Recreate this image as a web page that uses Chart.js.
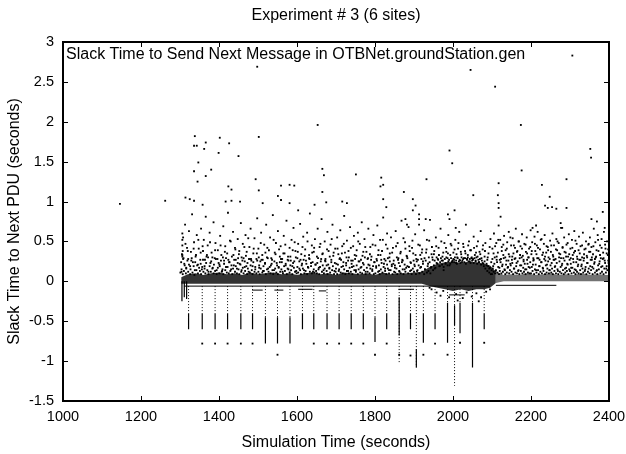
<!DOCTYPE html>
<html>
<head>
<meta charset="utf-8">
<script src="https://cdn.jsdelivr.net/npm/chart.js@4.4.1/dist/chart.umd.min.js"></script>
<style>
  html, body { margin: 0; padding: 0; background: #fff; }
  #wrap { width: 626px; height: 454px; }
</style>
</head>
<body>
<div id="wrap"><canvas id="chart" width="626" height="454"></canvas></div>
<script>
// labels
const chartTitle = 'Experiment # 3 (6 sites)';
const seriesName = 'Slack Time to Send Next Message in OTBNet.groundStation.gen';
const xTitle = 'Simulation Time (seconds)';
const yTitle = 'Slack Time to Next PDU (seconds)';

// sparse points above the cloud [time, slack]
const upperPts = [
  [1146,0.97],[1262,1.01],[1498,2.69],[2045,2.65],[2108,2.44],[2306,2.83],
  [1338,1.82],[1336,1.7],[1343,1.7],[1362,1.66],[1366,1.74],[1402,1.8],[1426,1.73],[1399,1.61],
  [1450,1.57],[1502,1.81],[1653,1.96],[1347,1.49],[1336,1.38],[1380,1.4],[1345,1.25],[1366,1.32],
  [1665,1.41],[1669,1.33],[1751,1.34],[1816,1.3],[1494,1.28],[1814,1.19],[1821,1.21],[1424,1.19],
  [1432,1.15],[1502,1.14],[1559,1.2],[1581,1.21],[1593,1.2],[1314,1.05],[1325,1.03],[1336,1.01],
  [1551,1.07],[1665,1.12],[1821,1.03],[1675,0.99],[1716,1.0],[1728,0.98],[1645,0.96],[1829,0.93],
  [1358,0.96],[1417,1.0],[1432,1.01],[1454,1.0],[1512,0.98],[1559,1.02],[1581,0.98],[1603,0.89],
  [2174,1.96],[1991,1.64],[1998,1.48],[2176,1.39],[1932,1.28],[2117,1.23],[2228,1.21],[2291,1.28],
  [2352,1.66],[2354,1.55],[1874,1.12],[2052,1.08],[2115,1.08],[2248,1.06],[1897,1.03],[2117,0.98],
  [2117,0.92],[2236,0.95],[2243,0.92],[2254,0.93],[2265,0.91],[2291,0.92],[2384,0.87],[1904,0.95],
  [1897,0.89],[1987,0.84],[1991,0.78],[2004,0.89],[1913,0.84],[1913,0.78],[1930,0.78],[1878,0.78],
  [1882,0.71],[2007,0.67],[2122,0.81],[2355,0.78],[2369,0.75],[2389,0.67],[2213,0.7],[2204,0.67],
  [2276,0.73],[2280,0.67]
];

// the scattered cloud between the band and ~0.85 s
const cloudPts = [
  [1304,0.12],[1306,0.31],[1308,0.55],[1311,0.22],[1313,0.71],[1316,0.16],[1318,0.42],[1321,0.28],[1323,0.63],[1326,0.19],
  [1328,0.37],[1331,0.84],[1333,0.24],[1336,0.49],[1338,0.14],[1341,0.33],[1343,0.58],[1346,0.21],[1348,0.41],
  [1352,0.27],[1354,0.66],[1356,0.15],[1359,0.38],[1361,0.52],[1363,0.19],[1366,0.81],[1368,0.31],[1371,0.45],[1373,0.12],
  [1376,0.61],[1378,0.23],[1381,0.36],[1384,0.17],[1386,0.74],[1389,0.29],[1391,0.48],[1394,0.14],[1397,0.39],
  [1401,0.21],[1403,0.57],[1406,0.33],[1408,0.13],[1411,0.69],[1413,0.26],[1416,0.44],[1418,0.18],[1421,0.35],[1423,0.86],
  [1426,0.24],[1428,0.51],[1431,0.15],[1433,0.31],[1436,0.62],[1438,0.2],[1441,0.42],[1443,0.27],[1446,0.16],[1448,0.53],
  [1451,0.34],[1453,0.22],[1456,0.73],[1458,0.14],[1461,0.47],[1463,0.29],[1466,0.18],[1468,0.58],[1471,0.37],[1473,0.23],
  [1476,0.12],[1478,0.43],[1481,0.66],[1483,0.26],[1486,0.19],[1488,0.35],[1491,0.54],[1493,0.15],[1496,0.28],[1498,0.79],
  [1501,0.41],[1503,0.17],[1506,0.25],[1508,0.61],[1511,0.33],[1513,0.13],[1516,0.46],[1518,0.22],[1521,0.71],[1523,0.3],
  [1526,0.16],[1528,0.39],[1531,0.55],[1533,0.2],[1536,0.27],[1538,0.83],[1541,0.14],[1543,0.36],[1546,0.48],[1548,0.23],
  [1551,0.63],[1553,0.18],[1556,0.31],[1558,0.44],[1561,0.24],[1563,0.12],[1566,0.57],[1568,0.35],[1571,0.2],[1573,0.76],
  [1576,0.27],[1578,0.15],[1581,0.42],[1583,0.31],[1586,0.52],[1588,0.19],[1591,0.67],[1593,0.25],[1596,0.38],[1598,0.13],
  [1601,0.29],[1603,0.47],[1606,0.16],[1608,0.72],[1611,0.34],[1613,0.22],[1616,0.56],[1618,0.14],[1621,0.4],[1623,0.26],
  [1626,0.61],[1628,0.18],[1631,0.33],[1633,0.85],[1636,0.23],[1638,0.45],[1641,0.12],[1643,0.37],[1646,0.53],[1648,0.21],
  [1651,0.31],[1653,0.66],[1656,0.17],[1658,0.43],[1661,0.25],[1663,0.78],[1666,0.35],[1668,0.14],[1671,0.5],[1673,0.28],
  [1676,0.2],[1678,0.62],[1681,0.38],[1683,0.16],[1686,0.46],[1688,0.24],[1691,0.71],[1693,0.32],[1696,0.13],[1698,0.41],
  [1701,0.22],[1703,0.55],[1706,0.34],[1708,0.15],[1711,0.64],[1713,0.27],[1716,0.44],[1718,0.19],[1721,0.82],[1723,0.36],
  [1726,0.23],[1728,0.51],[1731,0.13],[1733,0.3],[1736,0.68],[1738,0.42],[1741,0.18],[1743,0.26],[1746,0.57],[1748,0.33],
  [1751,0.14],[1753,0.39],[1756,0.61],[1758,0.25],[1761,0.47],[1763,0.17],[1766,0.74],[1768,0.32],[1771,0.21],[1773,0.53],
  [1776,0.12],[1778,0.37],[1781,0.28],[1783,0.66],[1786,0.2],[1788,0.43],[1791,0.31],[1793,0.15],[1796,0.58],[1798,0.24],
  [1801,0.45],[1803,0.19],[1806,0.7],[1808,0.33],[1811,0.13],[1813,0.52],[1816,0.27],[1818,0.38],[1821,0.8],[1823,0.22],
  [1826,0.16],[1828,0.46],[1831,0.6],[1833,0.29],[1836,0.14],[1838,0.35],[1841,0.55],[1843,0.21],[1846,0.42],[1848,0.26],
  [1851,0.17],[1853,0.63],[1856,0.3],[1858,0.48],[1861,0.23],[1863,0.12],[1866,0.37],[1868,0.76],[1871,0.26],[1873,0.54],
  [1876,0.15],[1878,0.41],[1881,0.32],[1883,0.19],[1886,0.68],[1888,0.44],[1891,0.24],[1893,0.14],[1896,0.51],[1898,0.35],
  [1901,0.21],[1903,0.59],[1906,0.28],[1908,0.13],[1911,0.46],[1913,0.71],[1916,0.33],[1918,0.18],[1921,0.4],[1923,0.25],
  [1926,0.64],[1928,0.15],[1931,0.36],[1933,0.52],[1936,0.22],[1938,0.3],[1941,0.77],[1943,0.17],[1946,0.43],[1948,0.27],
  [1951,0.34],[1953,0.16],[1956,0.55],[1958,0.23],[1961,0.28],[1963,0.42],[1966,0.19],[1968,0.66],[1971,0.26],[1973,0.31],
  [1976,0.14],[1978,0.48],[1981,0.22],[1983,0.37],[1986,0.29],[1988,0.58],[1991,0.2],[1993,0.33],[1996,0.45],[1998,0.25],
  [2001,0.36],[2003,0.27],[2006,0.52],[2008,0.23],[2011,0.3],[2013,0.41],[2016,0.62],[2018,0.26],[2021,0.34],[2023,0.24],
  [2026,0.47],[2028,0.29],[2031,0.38],[2033,0.71],[2036,0.28],[2038,0.33],[2041,0.5],[2043,0.25],[2046,0.39],[2048,0.3],
  [2051,0.28],[2053,0.56],[2056,0.33],[2058,0.26],[2061,0.44],[2063,0.31],[2066,0.24],[2068,0.37],[2071,0.63],[2073,0.29],
  [2076,0.4],[2078,0.22],[2081,0.31],[2083,0.48],[2086,0.2],[2088,0.27],[2091,0.35],[2093,0.16],[2096,0.53],[2098,0.24],
  [2101,0.41],[2103,0.19],[2105,0.6],[2107,0.3],[2109,0.13],[2111,0.48],[2113,0.24],[2115,0.36],[2117,0.7],[2119,0.17],
  [2121,0.52],[2123,0.28],[2125,0.43],[2127,0.21],[2129,0.33],[2131,0.57],[2133,0.14],[2135,0.39],[2137,0.26],[2139,0.49],
  [2141,0.18],[2143,0.62],[2145,0.31],[2147,0.22],[2149,0.45],
  [2151,0.27],[2153,0.54],[2155,0.35],[2157,0.16],[2159,0.42],[2161,0.66],[2163,0.23],[2165,0.38],[2167,0.13],[2169,0.5],
  [2171,0.29],[2173,0.44],[2175,0.2],[2177,0.59],[2179,0.32],[2181,0.25],[2183,0.47],[2185,0.15],[2187,0.37],[2189,0.55],
  [2191,0.22],[2193,0.3],[2195,0.41],[2197,0.17],[2199,0.64],
  [2201,0.34],[2203,0.49],[2205,0.21],[2207,0.27],[2209,0.56],[2211,0.38],[2213,0.14],[2215,0.45],[2217,0.62],[2219,0.29],
  [2221,0.19],[2223,0.4],[2225,0.52],[2227,0.24],[2229,0.33],[2231,0.16],[2233,0.47],[2235,0.58],[2237,0.26],[2239,0.36],
  [2241,0.21],[2243,0.43],[2245,0.3],[2247,0.14],[2249,0.51],
  [2251,0.37],[2253,0.23],[2255,0.6],[2257,0.31],[2259,0.45],[2261,0.18],[2263,0.28],[2265,0.53],[2267,0.39],[2269,0.13],
  [2271,0.48],[2273,0.25],[2275,0.34],[2277,0.67],[2279,0.2],[2281,0.42],[2283,0.29],[2285,0.55],[2287,0.16],[2289,0.36],
  [2291,0.46],[2293,0.22],[2295,0.31],[2297,0.59],[2299,0.27],
  [2301,0.41],[2303,0.17],[2305,0.52],[2307,0.33],[2309,0.24],[2311,0.63],[2313,0.38],[2315,0.14],[2317,0.47],[2319,0.28],
  [2321,0.21],[2323,0.56],[2325,0.35],[2327,0.44],[2329,0.19],[2331,0.3],[2333,0.61],[2335,0.26],[2337,0.4],[2339,0.15],
  [2341,0.5],[2343,0.32],[2345,0.23],[2347,0.46],[2349,0.37],
  [2351,0.55],[2353,0.27],[2355,0.43],[2357,0.18],[2359,0.34],[2361,0.66],[2363,0.24],[2365,0.49],[2367,0.31],[2369,0.14],
  [2371,0.58],[2373,0.38],[2375,0.22],[2377,0.45],[2379,0.29],[2381,0.53],[2383,0.19],[2385,0.36],[2387,0.62],[2389,0.26],
  [2391,0.41],[2393,0.16],[2395,0.5],[2397,0.33],[2399,0.23]
];

// extra dots in the 0.25-0.55 s part of the cloud
const midPts = [
  [1306,.6],[1306,.52],[1306,.45],[1307,.38],[1306,.33],
  [1305,.34],[1309,.29],[1314,.47],[1320,.38],[1329,.26],[1335,.41],[1340,.31],[1347,.52],
  [1353,.36],[1358,.44],[1364,.27],[1369,.33],[1377,.49],[1383,.3],[1390,.39],[1396,.28],
  [1404,.45],[1410,.3],[1415,.37],[1424,.27],[1430,.5],[1437,.33],[1442,.4],[1449,.29],
  [1452,.38],[1460,.26],[1465,.43],[1469,.32],[1475,.54],[1482,.28],[1489,.41],[1497,.35],
  [1502,.3],[1507,.48],[1512,.27],[1519,.36],[1524,.42],[1534,.29],[1540,.52],[1545,.34],
  [1554,.4],[1559,.28],[1565,.35],[1570,.46],[1577,.31],[1584,.26],[1589,.39],[1594,.49],
  [1602,.37],[1609,.27],[1614,.43],[1620,.32],[1627,.5],[1632,.28],[1639,.36],[1644,.42],
  [1654,.29],[1660,.47],[1665,.34],[1672,.26],[1677,.4],[1684,.31],[1689,.53],[1694,.36],
  [1704,.41],[1709,.28],[1715,.35],[1720,.47],[1727,.3],[1732,.38],[1739,.26],[1744,.44],
  [1752,.32],[1757,.5],[1764,.27],[1770,.37],[1775,.43],[1782,.29],[1787,.34],[1794,.46],
  [1804,.28],[1809,.39],[1814,.33],[1820,.52],[1827,.26],[1832,.41],[1837,.3],[1844,.36],
  [1854,.44],[1860,.29],[1865,.35],[1870,.27],[1877,.49],[1882,.31],[1889,.38],[1895,.42],
  [1904,.33],[1910,.27],[1915,.45],[1920,.36],[1927,.29],[1932,.4],[1939,.51],[1945,.34],
  [1952,.38],[1957,.44],[1964,.33],[1970,.5],[1975,.36],[1982,.42],[1987,.35],[1994,.47],
  [2004,.4],[2009,.34],[2014,.48],[2020,.37],[2027,.43],[2032,.35],[2039,.45],[2044,.39],
  [2054,.42],[2059,.36],[2064,.5],[2070,.34],[2077,.45],[2082,.38],[2089,.3],[2094,.43],
  [2101,.28],[2104,.35],[2108,.44],[2112,.31],[2116,.52],[2120,.27],[2125,.38],[2129,.46],[2134,.3],[2138,.41],[2143,.34],[2147,.55],
  [2152,.31],[2156,.45],[2160,.29],[2164,.37],[2168,.5],[2172,.33],[2177,.41],[2181,.27],[2186,.46],[2190,.35],[2194,.3],[2198,.43],
  [2202,.38],[2206,.29],[2210,.47],[2214,.34],[2218,.42],[2222,.27],[2227,.53],[2231,.36],[2236,.31],[2240,.44],[2244,.39],[2248,.28],
  [2252,.45],[2256,.33],[2260,.27],[2264,.4],[2268,.5],[2272,.35],[2277,.29],[2281,.43],[2286,.37],[2290,.31],[2294,.48],[2298,.34],
  [2302,.29],[2306,.42],[2310,.36],[2314,.51],[2318,.31],[2322,.39],[2327,.27],[2331,.45],[2336,.34],[2340,.41],[2344,.3],[2348,.47],
  [2352,.37],[2356,.3],[2360,.44],[2364,.28],[2368,.39],[2372,.52],[2377,.33],[2381,.42],[2386,.29],[2390,.46],[2394,.35],[2398,.4]
];

// dense dots just above the band
const nearPts = [
  [1301,.11],[1303,.24],[1304,.15],[1307,.09],[1308,.28],[1310,.13],[1312,.2],[1315,.1],[1316,.17],[1319,.26],[1321,.12],[1323,.21],
  [1326,.09],[1327,.15],[1330,.29],[1332,.11],[1335,.19],[1337,.08],[1339,.24],[1342,.14],[1344,.2],[1346,.1],[1349,.17],
  [1351,.13],[1353,.22],[1354,.09],[1357,.18],[1359,.27],[1360,.12],[1363,.16],[1365,.1],[1367,.23],[1370,.14],[1372,.3],[1373,.09],
  [1376,.19],[1379,.12],[1380,.25],[1383,.16],[1386,.1],[1387,.21],[1390,.13],[1392,.28],[1394,.09],[1397,.17],[1399,.23],
  [1401,.1],[1402,.19],[1405,.26],[1407,.12],[1409,.15],[1411,.09],[1413,.22],[1416,.14],[1418,.29],[1420,.11],[1422,.18],
  [1425,.1],[1427,.24],[1429,.13],[1432,.2],[1434,.09],[1436,.16],[1439,.27],[1441,.12],[1443,.19],[1446,.1],[1448,.23],
  [1450,.15],[1452,.09],[1455,.21],[1457,.12],[1458,.3],[1461,.17],[1463,.1],[1466,.25],[1467,.13],[1470,.19],[1472,.09],
  [1474,.16],[1477,.28],[1479,.11],[1481,.2],[1484,.14],[1486,.09],[1488,.24],[1491,.12],[1493,.18],[1496,.1],[1498,.26],
  [1501,.12],[1503,.2],[1504,.09],[1507,.16],[1509,.27],[1511,.11],[1514,.19],[1515,.13],[1518,.23],[1520,.09],[1523,.15],
  [1525,.29],[1527,.12],[1530,.18],[1532,.1],[1535,.22],[1537,.14],[1539,.09],[1542,.25],[1544,.16],[1547,.11],[1549,.2],
  [1551,.09],[1553,.17],[1556,.24],[1557,.12],[1560,.15],[1562,.28],[1564,.1],[1567,.19],[1569,.13],[1571,.22],[1574,.09],
  [1576,.16],[1578,.26],[1581,.11],[1583,.2],[1585,.14],[1588,.09],[1590,.23],[1592,.17],[1595,.12],[1597,.3],[1599,.1],
  [1601,.18],[1603,.11],[1606,.25],[1608,.14],[1610,.09],[1612,.2],[1615,.16],[1617,.27],[1619,.1],[1622,.13],[1624,.22],
  [1626,.09],[1629,.17],[1631,.29],[1633,.12],[1636,.19],[1638,.1],[1640,.24],[1643,.15],[1645,.11],[1647,.21],[1649,.13],
  [1651,.1],[1652,.23],[1655,.15],[1657,.09],[1659,.18],[1662,.28],[1664,.12],[1666,.2],[1669,.1],[1671,.16],[1673,.25],
  [1676,.13],[1678,.09],[1680,.21],[1683,.17],[1685,.11],[1688,.27],[1690,.14],[1692,.19],[1695,.09],[1697,.23],[1699,.12],
  [1700,.16],[1703,.09],[1705,.21],[1707,.13],[1710,.29],[1712,.11],[1714,.18],[1717,.1],[1719,.24],[1721,.15],[1724,.09],
  [1726,.2],[1728,.13],[1731,.26],[1733,.1],[1735,.17],[1738,.12],[1740,.22],[1742,.09],[1745,.19],[1747,.14],[1749,.28],
  [1751,.12],[1753,.2],[1756,.09],[1758,.15],[1760,.25],[1762,.11],[1765,.18],[1767,.1],[1769,.23],[1772,.14],[1774,.3],
  [1776,.09],[1779,.17],[1781,.12],[1783,.21],[1786,.1],[1788,.16],[1790,.27],[1793,.13],[1795,.19],[1797,.09],[1799,.24],
  [1801,.1],[1803,.17],[1805,.26],[1808,.12],[1810,.2],[1812,.09],[1815,.15],[1817,.23],[1819,.11],[1822,.18],[1824,.28],
  [1826,.13],[1829,.09],[1831,.21],[1833,.16],[1836,.1],[1838,.25],[1840,.14],[1843,.19],[1845,.09],[1847,.22],[1849,.12],
  [1851,.2],[1852,.11],[1855,.16],[1857,.09],[1859,.27],[1862,.13],[1864,.19],[1866,.1],[1869,.24],[1871,.15],[1873,.09],
  [1876,.21],[1878,.12],[1880,.17],[1883,.29],[1885,.1],[1887,.18],[1890,.13],[1892,.23],[1894,.09],[1897,.16],[1899,.26],
  [1900,.12],[1902,.19],[1905,.09],[1907,.25],[1909,.14],[1912,.2],[1914,.1],[1916,.17],[1919,.28],[1921,.12],[1923,.22],
  [1926,.09],[1928,.15],[1930,.26],[1933,.11],[1935,.19],[1937,.13],[1940,.24],[1942,.1],[1944,.18],[1947,.3],[1949,.14],
  [1951,.2],[1953,.26],[1955,.17],[1958,.3],[1960,.22],[1962,.27],[1965,.19],[1967,.24],[1969,.29],[1972,.21],[1974,.26],
  [1976,.18],[1979,.28],[1981,.23],[1983,.3],[1986,.2],[1988,.25],[1990,.27],[1993,.22],[1995,.29],[1997,.24],[1999,.26],
  [2001,.28],[2003,.24],[2005,.3],[2008,.26],[2010,.22],[2012,.29],[2015,.25],[2017,.27],[2019,.23],[2022,.3],[2024,.26],
  [2026,.28],[2029,.24],[2031,.29],[2033,.22],[2036,.27],[2038,.3],[2040,.25],[2043,.28],[2045,.23],[2047,.29],[2049,.26],
  [2051,.27],[2053,.23],[2055,.29],[2058,.25],[2060,.3],[2062,.22],[2065,.27],[2067,.24],[2069,.28],[2072,.21],[2074,.26],
  [2076,.23],[2079,.19],[2081,.25],[2083,.16],[2086,.22],[2088,.13],[2090,.19],[2093,.11],[2095,.17],[2097,.09],[2099,.14],
  [2100,.09],[2102,.16],[2104,.12],[2106,.22],[2108,.1],[2110,.14],[2112,.27],[2114,.11],[2116,.18],[2118,.09],[2120,.13],
  [2122,.24],[2124,.1],[2126,.19],[2128,.12],[2130,.29],[2132,.15],[2134,.09],[2136,.21],[2138,.11],[2140,.17],[2142,.26],
  [2144,.1],[2146,.14],[2148,.2],
  [2150,.12],[2152,.23],[2154,.09],[2156,.16],[2158,.28],[2160,.11],[2162,.19],[2164,.1],[2166,.25],[2168,.14],[2170,.09],
  [2172,.2],[2174,.13],[2176,.3],[2178,.1],[2180,.17],[2182,.12],[2184,.22],[2186,.09],[2188,.15],[2190,.27],[2192,.11],
  [2194,.18],[2196,.1],[2198,.24],
  [2200,.1],[2202,.18],[2204,.13],[2206,.26],[2208,.09],[2210,.15],[2212,.21],[2214,.11],[2216,.29],[2218,.14],[2220,.09],
  [2222,.19],[2224,.12],[2226,.24],[2228,.1],[2230,.17],[2232,.13],[2234,.28],[2236,.09],[2238,.2],[2240,.11],[2242,.16],
  [2244,.25],[2246,.1],[2248,.14],
  [2250,.2],[2252,.11],[2254,.16],[2256,.09],[2258,.27],[2260,.13],[2262,.19],[2264,.1],[2266,.23],[2268,.15],[2270,.09],
  [2272,.3],[2274,.12],[2276,.18],[2278,.1],[2280,.22],[2282,.14],[2284,.09],[2286,.26],[2288,.11],[2290,.17],[2292,.13],
  [2294,.21],[2296,.09],[2298,.15],
  [2300,.13],[2302,.22],[2304,.1],[2306,.17],[2308,.28],[2310,.11],[2312,.15],[2314,.09],[2316,.24],[2318,.12],[2320,.19],
  [2322,.1],[2324,.27],[2326,.14],[2328,.09],[2330,.21],[2332,.16],[2334,.11],[2336,.29],[2338,.13],[2340,.18],[2342,.09],
  [2344,.23],[2346,.12],[2348,.16],
  [2350,.1],[2352,.19],[2354,.14],[2356,.27],[2358,.09],[2360,.16],[2362,.22],[2364,.11],[2366,.3],[2368,.13],[2370,.09],
  [2372,.2],[2374,.15],[2376,.25],[2378,.1],[2380,.18],[2382,.12],[2384,.28],[2386,.09],[2388,.16],[2390,.23],[2392,.11],
  [2394,.19],[2396,.14],[2398,.26]
];

// ragged dots under the 1950-2100 s blob
const lowPts = [[1940,-.08],[1945,-.1],[1958,-.14],[1968,-.18],[1975,-.12],[1990,-.2],[2008,-.16],[2012,-.24],[2025,-.21],[2035,-.14],[2048,-.19],[2060,-.15],[2066,-.25],[2072,-.2],[2085,-.13],[2095,-.1]];

// dense band around zero: envelope of the solid black mass
const bandX      = [1303,1320,1340,1360,1380,1400,1420,1440,1460,1480,1500,1520,1540,1560,1580,1600,1620,1640,1660,1680,1700,1720,1740,1760,1780,1800,1820,1840,1860,1880,1900,1920,1940,1960,1980,2000,2020,2040,2060,2080,2095,2110,2130,2150,2170,2190,2210,2230,2250,2270,2290,2310,2330,2350,2370,2390,2400];
const bandTop    = [0.05,0.09,0.1,0.08,0.1,0.11,0.09,0.1,0.08,0.11,0.09,0.1,0.11,0.09,0.1,0.08,0.1,0.11,0.09,0.1,0.08,0.11,0.1,0.09,0.1,0.08,0.11,0.09,0.1,0.1,0.11,0.12,0.18,0.22,0.24,0.25,0.23,0.25,0.24,0.22,0.2,0.12,0.08,0.09,0.08,0.1,0.08,0.09,0.1,0.08,0.09,0.08,0.1,0.08,0.09,0.08,0.08];
const bandBottom = [-0.03,-0.03,-0.03,-0.03,-0.03,-0.03,-0.03,-0.03,-0.03,-0.03,-0.03,-0.03,-0.03,-0.03,-0.03,-0.03,-0.03,-0.03,-0.03,-0.03,-0.03,-0.03,-0.03,-0.03,-0.03,-0.03,-0.03,-0.03,-0.03,-0.03,-0.03,-0.03,-0.06,-0.08,-0.1,-0.12,-0.1,-0.12,-0.1,-0.1,-0.08,-0.02,0,0,0,0,0,0,0,0,0,0,0,0,0,0,0];

// horizontal runs under the band [from, to, slack]
const hRuns = [[1310,2095,-0.06],[2110,2265,-0.05],[1485,1512,-0.11],[1542,1565,-0.11],[1603,1640,-0.1],[1656,1675,-0.12],[1860,1900,-0.1],[1990,2030,-0.17]];

// negative drop columns
const dropX           = [1305,1311,1317,1322,1357,1390,1422,1456,1486,1519,1550,1582,1614,1643,1677,1708,1739,1770,1800,1830,1862,1891,1906,1924,1954,1986,2004,2018,2050,2080];
const dropDotEnd      = [-0.06,-0.06,-0.06,-0.4,-0.4,-0.4,-0.4,-0.4,-0.4,-0.45,-0.45,-0.45,-0.4,-0.4,-0.4,-0.4,-0.4,-0.4,-0.45,-0.4,-1.03,-0.4,-1.08,-0.4,-0.4,-0.27,-1.31,-0.27,-0.27,-0.4];
const dropSolidTop    = [0,0,0,-0.4,-0.4,-0.4,-0.4,-0.4,-0.4,-0.45,-0.45,-0.45,-0.4,-0.4,-0.4,-0.4,-0.4,-0.4,-0.45,-0.4,-0.2,-0.4,-0.85,-0.4,-0.4,-0.27,-0.3,-0.27,-0.27,-0.4];
const dropSolidBottom = [-0.25,-0.2,-0.22,-0.6,-0.6,-0.6,-0.6,-0.6,-0.6,-0.78,-0.78,-0.78,-0.6,-0.6,-0.6,-0.6,-0.6,-0.6,-0.76,-0.6,-0.68,-0.6,-1.08,-0.77,-0.6,-0.77,-0.55,-0.65,-1.08,-0.6];
const lonePts = [[1357,-0.78],[1390,-0.78],[1422,-0.78],[1456,-0.78],[1486,-0.78],[1550,-0.92],[1643,-0.78],[1677,-0.78],[1708,-0.78],[1739,-0.78],[1770,-0.78],[1800,-0.92],[1830,-0.78],[1862,-0.92],[1891,-0.93],[1924,-0.92],[1954,-0.78],[1986,-0.92],[2018,-0.77],[2080,-0.77]];

const FONT = '"Liberation Sans", Arial, sans-serif';

const toXY = arr => arr.map(p => ({x: p[0], y: p[1]}));

const runData = [];
hRuns.forEach(r => { runData.push({x: r[0], y: r[2]}, {x: r[1], y: r[2]}, {x: r[1], y: null}); });

const dotData = [];
const solidData = [];
dropX.forEach((x, i) => {
  if (dropDotEnd[i] < -0.06) dotData.push({x, y: -0.06}, {x, y: dropDotEnd[i]}, {x, y: null});
  solidData.push({x, y: dropSolidTop[i]}, {x, y: dropSolidBottom[i]}, {x, y: null});
});

// box, inside ticks and the in-plot series label (filled rects)
const frame = {
  id: 'frame',
  afterDraw(chart) {
    const {ctx, chartArea: a} = chart;
    const x = chart.scales.x, y = chart.scales.y;
    const L = Math.round(a.left), R = Math.round(a.right), T = Math.round(a.top), B = Math.round(a.bottom);
    ctx.save();
    ctx.fillStyle = '#000';
    ctx.fillRect(L - 1, T - 1, R - L + 2, 2);
    ctx.fillRect(L - 1, B - 1, R - L + 2, 2);
    ctx.fillRect(L - 1, T - 1, 2, B - T + 2);
    ctx.fillRect(R - 1, T - 1, 2, B - T + 2);
    x.ticks.forEach(t => {
      const px = Math.round(x.getPixelForValue(t.value));
      ctx.fillRect(px, T, 1, 5);
      ctx.fillRect(px, B - 5, 1, 5);
    });
    y.ticks.forEach(t => {
      const py = Math.round(y.getPixelForValue(t.value));
      ctx.fillRect(L, py, 5, 1);
      ctx.fillRect(R - 5, py, 5, 1);
    });
    ctx.font = '16px ' + FONT;
    ctx.textBaseline = 'middle';
    ctx.fillText(seriesName, a.left + 3, a.top + 13);
    ctx.restore();
  }
};

const dotStyle = {pointStyle: 'rect', pointRadius: 1.3, pointBorderWidth: 0, backgroundColor: '#000', borderColor: '#000'};

new Chart(document.getElementById('chart'), {
  type: 'scatter',
  data: {
    datasets: [
      Object.assign({label: 'upper', data: toXY(upperPts)}, dotStyle),
      Object.assign({label: 'cloud', data: toXY(cloudPts)}, dotStyle),
      Object.assign({label: 'mid', data: toXY(midPts)}, dotStyle),
      Object.assign({label: 'near', data: toXY(nearPts)}, dotStyle),
      Object.assign({label: 'low', data: toXY(lowPts)}, dotStyle),
      Object.assign({label: 'lone', data: toXY(lonePts)}, dotStyle),
      {
        type: 'line', label: 'bandTop',
        data: bandX.map((x, i) => ({x, y: bandTop[i]})),
        borderWidth: 0, pointRadius: 0, fill: '+1',
        backgroundColor: 'rgba(0,0,0,0.8)',
        segment: {backgroundColor: c => c.p0.parsed.x >= 2110 ? 'rgba(0,0,0,0.55)' : undefined}
      },
      {
        type: 'line', label: 'bandBottom',
        data: bandX.map((x, i) => ({x, y: bandBottom[i]})),
        borderWidth: 0, pointRadius: 0, fill: false
      },
      {type: 'line', label: 'runs', data: runData, borderColor: '#000', borderWidth: 1, pointRadius: 0, fill: false},
      {type: 'line', label: 'dotted', data: dotData, borderColor: '#000', borderWidth: 1, borderDash: [1, 2], pointRadius: 0, fill: false},
      {type: 'line', label: 'solid', data: solidData, borderColor: '#000', borderWidth: 1.2, pointRadius: 0, fill: false}
    ]
  },
  options: {
    responsive: false,
    animation: false,
    events: [],
    layout: {padding: {right: 17}},
    plugins: {
      legend: {display: false},
      tooltip: {enabled: false},
      title: {
        display: true, text: chartTitle, fullSize: false, color: '#000',
        font: {family: FONT, size: 16, weight: 'normal'},
        padding: {top: 6, bottom: 16.8}
      }
    },
    scales: {
      x: {
        type: 'linear', min: 1000, max: 2400,
        grid: {display: false, drawTicks: false},
        border: {display: false},
        ticks: {stepSize: 200, autoSkip: false, maxRotation: 0, padding: 7, color: '#000', font: {family: FONT, size: 14.5}, callback: v => String(v)},
        title: {display: true, text: xTitle, color: '#000', font: {family: FONT, size: 16}, padding: {top: 0, bottom: 2}},
        afterFit: s => { s.height = 53; s.paddingLeft = 0; s.paddingRight = 0; }
      },
      y: {
        type: 'linear', min: -1.5, max: 3,
        grid: {display: false, drawTicks: false},
        border: {display: false},
        ticks: {stepSize: 0.5, autoSkip: false, padding: 9, color: '#000', font: {family: FONT, size: 14.5}, callback: v => String(v)},
        title: {display: true, text: yTitle, color: '#000', font: {family: FONT, size: 16}, padding: {top: 5, bottom: 0}},
        afterFit: s => { s.width = 63; s.paddingTop = 0; s.paddingBottom = 0; }
      }
    }
  },
  plugins: [frame]
});
</script>
</body>
</html>
